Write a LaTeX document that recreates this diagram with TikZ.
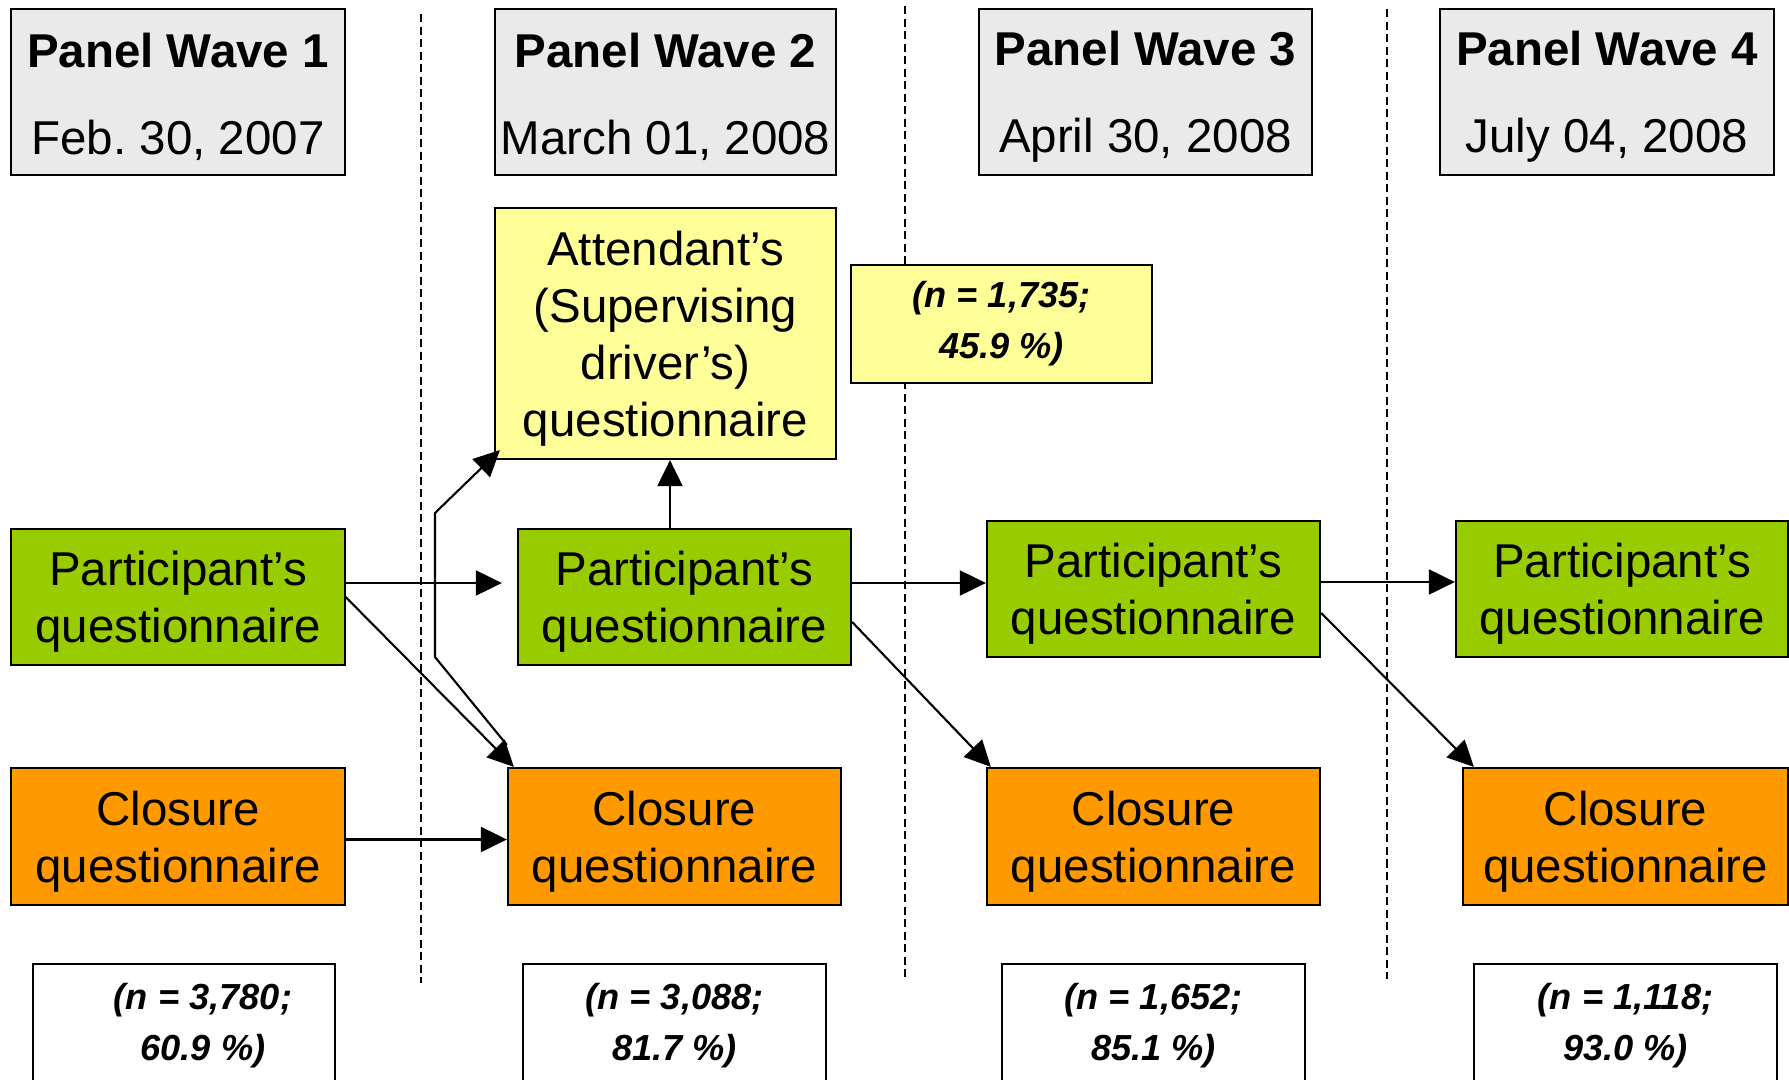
\documentclass[tikz,border=0pt]{standalone}
\usepackage{fontspec}
\setmainfont{Liberation Sans}
\usetikzlibrary{arrows.meta, positioning}
\definecolor{WaveGray}{HTML}{EAEAEA}
\definecolor{AttendYellow}{HTML}{FFFF99}
\definecolor{PartGreen}{HTML}{99CC00}
\definecolor{CloseOrange}{HTML}{FF9900}
\frenchspacing
\newcommand{\boxstrut}{\rule{0pt}{12.6pt}}

\begin{document}
\begin{tikzpicture}[
            x=0.01cm, y=-0.01cm,
            box/.style={rectangle, draw=black, line width=0.6pt, inner sep=0pt, minimum height=1.36cm, align=center, font=\fontsize{13.5}{16.2}\selectfont},
            wavebox/.style={box, fill=WaveGray, minimum height=1.66cm},
            partbox/.style={box, fill=PartGreen, minimum width=3.33cm},
            closebox/.style={box, fill=CloseOrange, minimum width=3.33cm, minimum height=1.37cm},
            attendbox/.style={box, fill=AttendYellow},
            countbox/.style={box, fill=white, minimum width=3.02cm, minimum height=1.22cm, font=\fontsize{10.3}{14.5}\selectfont\bfseries\itshape},
            arrow/.style={-{Triangle[length=0.26cm, width=0.25cm]}, line width=0.6pt},
            divider/.style={line width=0.45pt, dash pattern=on 0.08cm off 0.045cm}
        ]
            \useasboundingbox (0,0) rectangle (1789,1079);
            \clip (0,0) rectangle (1789,1079);

            % wave dividers
            \draw[divider] (421,14) -- (421,983);
            \draw[divider] (905,6) -- (905,979);
            \draw[divider] (1387,9) -- (1387,979);

            \node[wavebox, minimum width=3.34cm] (wave1) at (178,92) {\boxstrut\textbf{Panel Wave 1}\\[8.5pt]Feb. 30, 2007};
            \node[wavebox, minimum width=3.41cm] (wave2) at (665.5,92) {\boxstrut\textbf{Panel Wave 2}\\[8.5pt]March 01, 2008};
            \node[wavebox, minimum width=3.33cm] (wave3) at (1145.5,92) {\boxstrut\textbf{Panel Wave 3}\\[8.5pt]April 30, 2008};
            \node[wavebox, minimum width=3.34cm] (wave4) at (1607,92) {\boxstrut\textbf{Panel Wave 4}\\[8.5pt]July 04, 2008};

            \node[attendbox, minimum width=3.41cm, minimum height=2.51cm] (attend) at (665.5,333.5) {\boxstrut Attendant’s\\(Supervising\\driver’s)\\questionnaire};
            \node[countbox, fill=AttendYellow, minimum width=3.01cm, minimum height=1.18cm] (attcount) at (1001.5,324) {(n = 1,735;\\45.9 \%)};

            \node[partbox] (part1) at (178,597) {\boxstrut Participant’s\\questionnaire};
            \node[partbox] (part2) at (684.5,597) {\boxstrut Participant’s\\questionnaire};
            \node[partbox] (part3) at (1153.5,589) {\boxstrut Participant’s\\questionnaire};
            \node[partbox, minimum width=3.32cm] (part4) at (1622,589) {\boxstrut Participant’s\\questionnaire};

            \node[closebox] (close1) at (178,836.5) {\boxstrut Closure\\questionnaire};
            \node[closebox] (close2) at (674.5,836.5) {\boxstrut Closure\\questionnaire};
            \node[closebox] (close3) at (1153.5,836.5) {\boxstrut Closure\\questionnaire};
            \node[closebox, minimum width=3.25cm] (close4) at (1625.5,836.5) {\boxstrut Closure\\questionnaire};

            \node[countbox, below=0.57cm of close1, xshift=0.06cm] (count1) {\hspace*{0.38cm}(n = 3,780;\\\hspace*{0.38cm}60.9 \%)};
            \node[countbox, below=0.57cm of close2] (count2) {(n = 3,088;\\81.7 \%)};
            \node[countbox, below=0.57cm of close3] (count3) {(n = 1,652;\\85.1 \%)};
            \node[countbox, below=0.57cm of close4] (count4) {(n = 1,118;\\93.0 \%)};

            \coordinate (bendlow) at (435,657);
            \coordinate (bendhigh) at (435,513);
            \coordinate (partup) at ([xshift=-0.145cm]part2.north);

            \draw[arrow] ([yshift=0.14cm]part1.east) -- ([yshift=0.14cm, xshift=-0.15cm]part2.west);
            \draw[arrow] (part1.east) -- ([xshift=0.07cm]close2.north west);
            \draw[arrow] ([yshift=0.22cm]close2.north west) -- (bendlow) -- (bendhigh) -- ([xshift=0.06cm, yshift=0.1cm]attend.south west);
            \draw[arrow] (partup) -- (partup |- attend.south);
            \draw[arrow] ([yshift=-0.03cm]close1.east) -- ([yshift=-0.03cm]close2.west);
            \draw[arrow] ([yshift=0.14cm]part2.east) -- ([yshift=0.14cm]part2.east -| part3.west);
            \draw[arrow] ([yshift=-0.25cm]part2.east) -- ([xshift=0.05cm]close3.north west);
            \draw[arrow] ([yshift=0.07cm]part3.east) -- ([yshift=0.07cm]part3.east -| part4.west);
            \draw[arrow] ([yshift=-0.24cm]part3.east) -- ([xshift=0.12cm]close4.north west);
        \end{tikzpicture}
\end{document}
